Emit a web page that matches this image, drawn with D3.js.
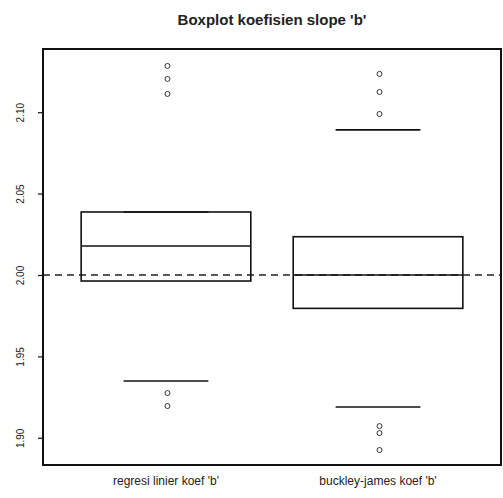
<html>
<head>
    <title>Boxplot koefisien slope</title>
    <script src="https://d3js.org/d3.v7.min.js"></script>
</head>
<style>
    body { margin: 0; background: #fff; }
    text { font-family: "Liberation Sans", Arial, sans-serif; fill: #222; }
    .box { fill: none; stroke: #111; stroke-width: 1.6px; }
    .pt { fill: none; stroke: #333; stroke-width: 1px; }
</style>
<body>
<script>
    // data
    let categories = ["regresi linier koef 'b'", "buckley-james koef 'b'"];
    let q1 = [1.9963, 1.9795];
    let median = [2.0178, 2.0000];
    let q3 = [2.0387, 2.0235];
    let whiskerLo = [1.9349, 1.9189];
    let whiskerHi = [2.0387, 2.0891];
    let outliers = [
        [2.1284, 2.1204, 2.1112, 1.9275, 1.9195],
        [2.1235, 2.1124, 2.0989, 1.9072, 1.9029, 1.8925]
    ];
    let yTicks = [1.90, 1.95, 2.00, 2.05, 2.10];
    let refValue = 2.00;

    let svgwidth = 503, svgheight = 498;
    let plot = { left: 43, right: 501, top: 49, bottom: 465 };

    let x = d3.scaleLinear().domain([0.42, 2.58]).range([plot.left, plot.right]);
    let y = d3.scaleLinear().domain([1.8833, 2.1388]).range([plot.bottom, plot.top]);
    let boxW = 0.8;

    let svg = d3.select("body").append("svg")
        .attr("width", svgwidth)
        .attr("height", svgheight);

    // title
    svg.append("text")
        .attr("x", (plot.left + plot.right) / 2)
        .attr("y", 25)
        .attr("text-anchor", "middle")
        .attr("font-size", 15)
        .attr("font-weight", "bold")
        .text("Boxplot koefisien slope 'b'");

    // reference line
    svg.append("line")
        .attr("x1", plot.left).attr("x2", plot.right)
        .attr("y1", y(refValue)).attr("y2", y(refValue))
        .attr("stroke", "#222")
        .attr("stroke-width", 1.6)
        .attr("stroke-dasharray", "7,5");

    let groups = svg.selectAll(".grp")
        .data(categories)
        .enter().append("g")
        .attr("class", "grp");

    // boxes
    groups.append("rect")
        .attr("class", "box")
        .attr("x", (d, i) => x(i + 1 - boxW / 2))
        .attr("width", (d, i) => x(i + 1 + boxW / 2) - x(i + 1 - boxW / 2))
        .attr("y", (d, i) => y(q3[i]))
        .attr("height", (d, i) => y(q1[i]) - y(q3[i]));

    // medians
    groups.append("line")
        .attr("class", "box")
        .attr("x1", (d, i) => x(i + 1 - boxW / 2))
        .attr("x2", (d, i) => x(i + 1 + boxW / 2))
        .attr("y1", (d, i) => y(median[i]))
        .attr("y2", (d, i) => y(median[i]));

    // staples (no whisker lines in the original)
    [whiskerLo, whiskerHi].forEach(function (w) {
        groups.append("line")
            .attr("class", "box")
            .attr("x1", (d, i) => x(i + 1 - boxW / 4))
            .attr("x2", (d, i) => x(i + 1 + boxW / 4))
            .attr("y1", (d, i) => y(w[i]))
            .attr("y2", (d, i) => y(w[i]));
    });

    // outliers
    groups.each(function (d, i) {
        d3.select(this).selectAll("circle")
            .data(outliers[i])
            .enter().append("circle")
            .attr("class", "pt")
            .attr("cx", x(i + 1) + 1.5)
            .attr("cy", v => y(v))
            .attr("r", 2.5);
    });

    // category labels
    groups.append("text")
        .attr("x", (d, i) => x(i + 1))
        .attr("y", 485)
        .attr("text-anchor", "middle")
        .attr("font-size", 12)
        .text(d => d);

    // y axis
    let yAxis = svg.append("g")
        .attr("transform", "translate(" + plot.left + ",0)")
        .call(d3.axisLeft(y).tickValues(yTicks).tickSize(5).tickFormat(d3.format(".2f")));
    yAxis.select(".domain").remove();
    yAxis.selectAll(".tick line").attr("stroke", "#111").attr("stroke-width", 1.2);
    yAxis.selectAll(".tick text")
        .attr("font-size", 10)
        .attr("font-family", "Liberation Sans, Arial, sans-serif")
        .attr("fill", "#333")
        .attr("text-anchor", "middle")
        .attr("x", 0).attr("dy", 0)
        .attr("transform", "translate(-19,0) rotate(-90)");

    // frame
    svg.append("rect")
        .attr("x", plot.left).attr("y", plot.top)
        .attr("width", plot.right - plot.left)
        .attr("height", plot.bottom - plot.top)
        .attr("fill", "none")
        .attr("stroke", "#111")
        .attr("stroke-width", 2);
</script>
</body>
</html>
